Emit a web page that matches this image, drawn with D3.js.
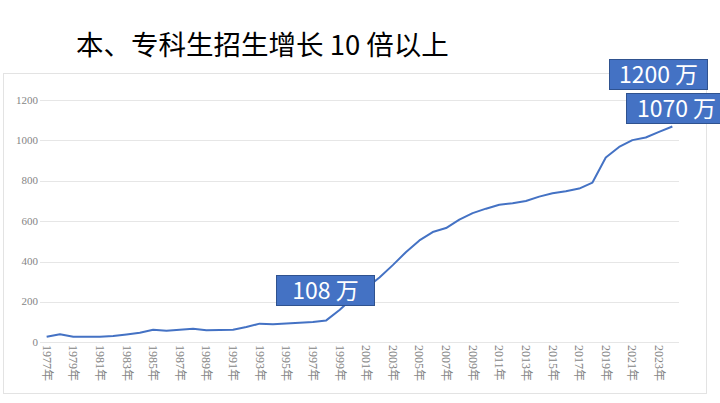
<!DOCTYPE html>
<html>
<head>
<meta charset="utf-8">
<script src="https://cdn.jsdelivr.net/npm/d3@7"></script>
<style>
  html, body { margin: 0; padding: 0; background: #fff; }
  svg { display: block; }
</style>
</head>
<body>
<svg id="chart" width="720" height="403"></svg>
<script>
// Enrollment of undergraduate + junior college students (万人), 1977-2024
const years = d3.range(1977, 2025);
const enrollment = [
  27.3, 40.2, 27.5, 28.1, 27.9, 31.5, 39.1, 47.5, 61.9, 57.2,
  61.7, 67.0, 59.7, 60.9, 62.0, 75.4, 92.4, 90.0, 92.6, 96.6,
  100.0, 108.4, 159.7, 220.6, 268.3, 320.5, 382.2, 447.3, 504.5, 546.1,
  565.9, 607.7, 639.5, 661.8, 681.5, 688.8, 699.8, 721.4, 737.8, 748.6,
  761.5, 791.0, 914.9, 967.5, 1001.3, 1014.5, 1042.2, 1068.9
];
const yTicks = [0, 200, 400, 600, 800, 1000, 1200];
const callouts = [
  { text: "108 万", x: 276, y: 275, w: 98 },
  { text: "1200 万", x: 609, y: 59, w: 98 },
  { text: "1070 万", x: 626, y: 93, w: 100 }
];

const sansCJK = "'Noto Sans CJK SC', 'Noto Sans', sans-serif";
const serif = "'Liberation Serif', 'Noto Sans CJK SC', serif";
const blue = "#4472C4";

const svg = d3.select("#chart");

// Title
svg.append("text")
  .attr("x", 76)
  .attr("y", 55)
  .attr("font-family", sansCJK)
  .attr("font-size", "27.5px")
  .attr("fill", "#000")
  .text("本、专科生招生增长 10 倍以上");

// Chart frame
svg.append("rect")
  .attr("x", 3.5)
  .attr("y", 73.5)
  .attr("width", 703)
  .attr("height", 320)
  .attr("fill", "#fff")
  .attr("stroke", "#e3e3e3");

const x = d3.scaleBand().domain(years).range([40, 679]);
const y = d3.scaleLinear().domain([0, 1200]).range([342.3, 100]);
const cx = d => x(d) + x.bandwidth() / 2;

// Gridlines
svg.append("g")
  .selectAll("line")
  .data(yTicks)
  .join("line")
  .attr("x1", 40)
  .attr("x2", 679)
  .attr("y1", d => Math.round(y(d)) + 0.5)
  .attr("y2", d => Math.round(y(d)) + 0.5)
  .attr("stroke", "#e6e6e6");

// Y axis labels
svg.append("g")
  .selectAll("text")
  .data(yTicks)
  .join("text")
  .attr("x", 38)
  .attr("y", d => y(d) + 3.5)
  .attr("text-anchor", "end")
  .attr("font-family", serif)
  .attr("font-size", "11px")
  .attr("fill", "#858585")
  .text(d => d);

// X axis labels (every other year, rotated)
svg.append("g")
  .selectAll("text")
  .data(years.filter((d, i) => i % 2 === 0))
  .join("text")
  .attr("transform", d => `translate(${cx(d) - 4},345) rotate(90)`)
  .attr("font-family", serif)
  .attr("font-size", "12px")
  .attr("fill", "#858585")
  .text(d => d + "年");

// Line
const line = d3.line()
  .x((d, i) => cx(years[i]))
  .y(d => y(d));

svg.append("path")
  .datum(enrollment)
  .attr("d", line)
  .attr("fill", "none")
  .attr("stroke", blue)
  .attr("stroke-width", 2)
  .attr("stroke-linejoin", "round");

// Callout boxes
const boxes = svg.append("g")
  .selectAll("g")
  .data(callouts)
  .join("g")
  .attr("transform", d => `translate(${d.x},${d.y})`);

boxes.append("rect")
  .attr("x", 0.5)
  .attr("y", 0.5)
  .attr("width", d => d.w)
  .attr("height", 30)
  .attr("fill", blue)
  .attr("stroke", "#2F528F");

boxes.append("text")
  .attr("x", d => d.w / 2 + 0.5)
  .attr("y", 24)
  .attr("text-anchor", "middle")
  .attr("font-family", sansCJK)
  .attr("font-size", "23px")
  .attr("fill", "#fff")
  .text(d => d.text);
</script>
</body>
</html>
